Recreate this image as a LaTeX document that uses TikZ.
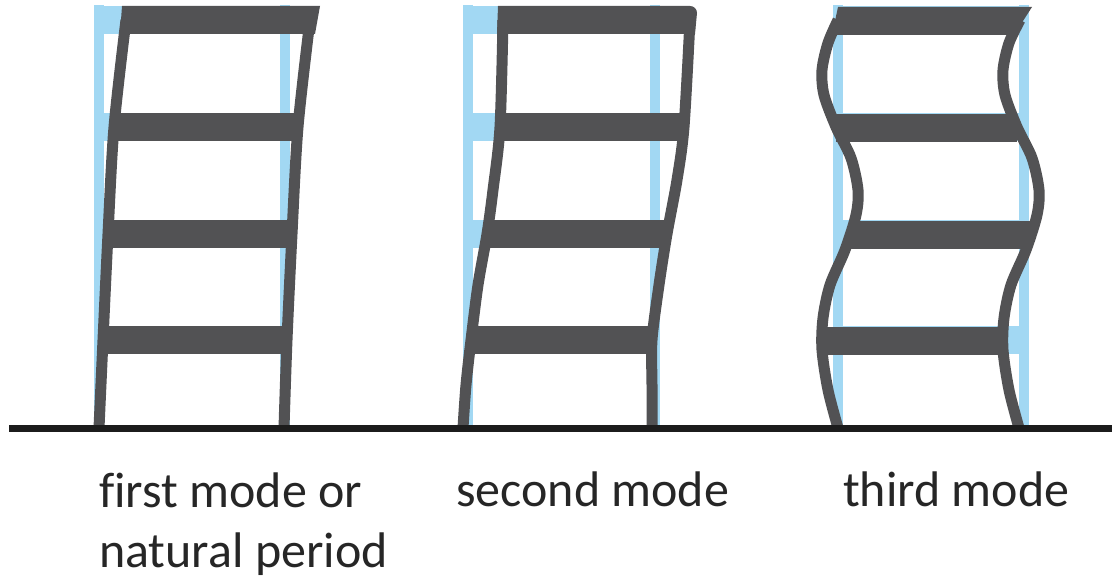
\documentclass[tikz,border=0pt]{standalone}
\usepackage{fontspec}
\setmainfont{Carlito}[Ligatures=CommonOff]
\usetikzlibrary{positioning}
\definecolor{frameblue}{RGB}{162,216,243}
\definecolor{framegray}{RGB}{82,82,84}
\definecolor{groundblack}{RGB}{28,28,28}

\begin{document}
\begin{tikzpicture}[x=1pt, y=-1pt,
    restframe/.style={draw=frameblue, line width=10pt},
    column/.style={draw=framegray, line width=11pt},
    slab/.style={fill=framegray},
    modetext/.style={anchor=base west, inner sep=0pt, text=black!85,
        font=\fontsize{50}{59}\selectfont}]

    \useasboundingbox (0,0) rectangle (1112,580);

    % undeformed frames behind
    \foreach \xl/\xr in {99/285, 468/655, 838/1024}{
        \draw[restframe] (\xl,5) -- (\xl,428);
        \draw[restframe] (\xr,5) -- (\xr,428);
        \foreach \y in {20,127,234,340}
            \fill[frameblue] (\xl,\y-14) rectangle (\xr,\y+14);
    }

    % first mode
    \fill[slab] (122,6) -- (320,6) -- (315,34) -- (120,34) -- cycle;
    \fill[slab] (114,113) rectangle (298,141);
    \fill[slab] (108,220) rectangle (292,248);
    \fill[slab] (103,326) rectangle (287,354);
    \draw[column] plot[smooth] coordinates {(99,428) (103,340) (108,234) (114,127) (126,20)};
    \draw[column] plot[smooth] coordinates {(284,428) (287,340) (292,234) (298,127) (310,20)};

    % second mode
    \fill[slab] (498,6) -- (690,6) to[out=0,in=90] (697,13) -- (695,34) -- (497,34) -- cycle;
    \fill[slab] (500,113) rectangle (684,141);
    \fill[slab] (487,220) rectangle (667,248);
    \fill[slab] (471,326) rectangle (652,354);
    \draw[column] plot[smooth] coordinates {(463,428) (466,385) (471,340) (478,285) (487,234)
        (493,190) (500,127) (503,20)};
    \draw[column] plot[smooth] coordinates {(652,428) (652,385) (652,340) (659,285) (667,234)
        (677,180) (684,127) (690,20)};

    % third mode
    \fill[slab] (838,7) -- (1032,7) -- (1014,35) -- (832,35) -- cycle;
    \fill[slab] (836,114) rectangle (1017,142);
    \fill[slab] (851,221) rectangle (1032,249);
    \fill[slab] (822,327) rectangle (1003,355);
    \draw[column] plot[smooth] coordinates {(838,428) (828,390) (822,350) (823,318) (830,285)
        (845,250) (856,215) (858,190) (851,158) (836,127) (824,95) (822,70) (828,43)
        (838,20)};
    \draw[column] plot[smooth] coordinates {(1019,428) (1009,390) (1003,350) (1004,318) (1011,285)
        (1026,250) (1037,215) (1039,190) (1032,158) (1017,127) (1005,95) (1003,70) (1009,43)
        (1020,20)};

    % ground
    \draw[groundblack, line width=7pt] (9,428) -- (1112,428);

    \node[modetext] (first) at (99,507) {first mode or};
    \node[modetext] (natural) at (99,567) {natural period};
    \node[modetext] (second) at (456,506) {second mode};
    \node[modetext] (third) at (843,506) {third mode};
\end{tikzpicture}
\end{document}
